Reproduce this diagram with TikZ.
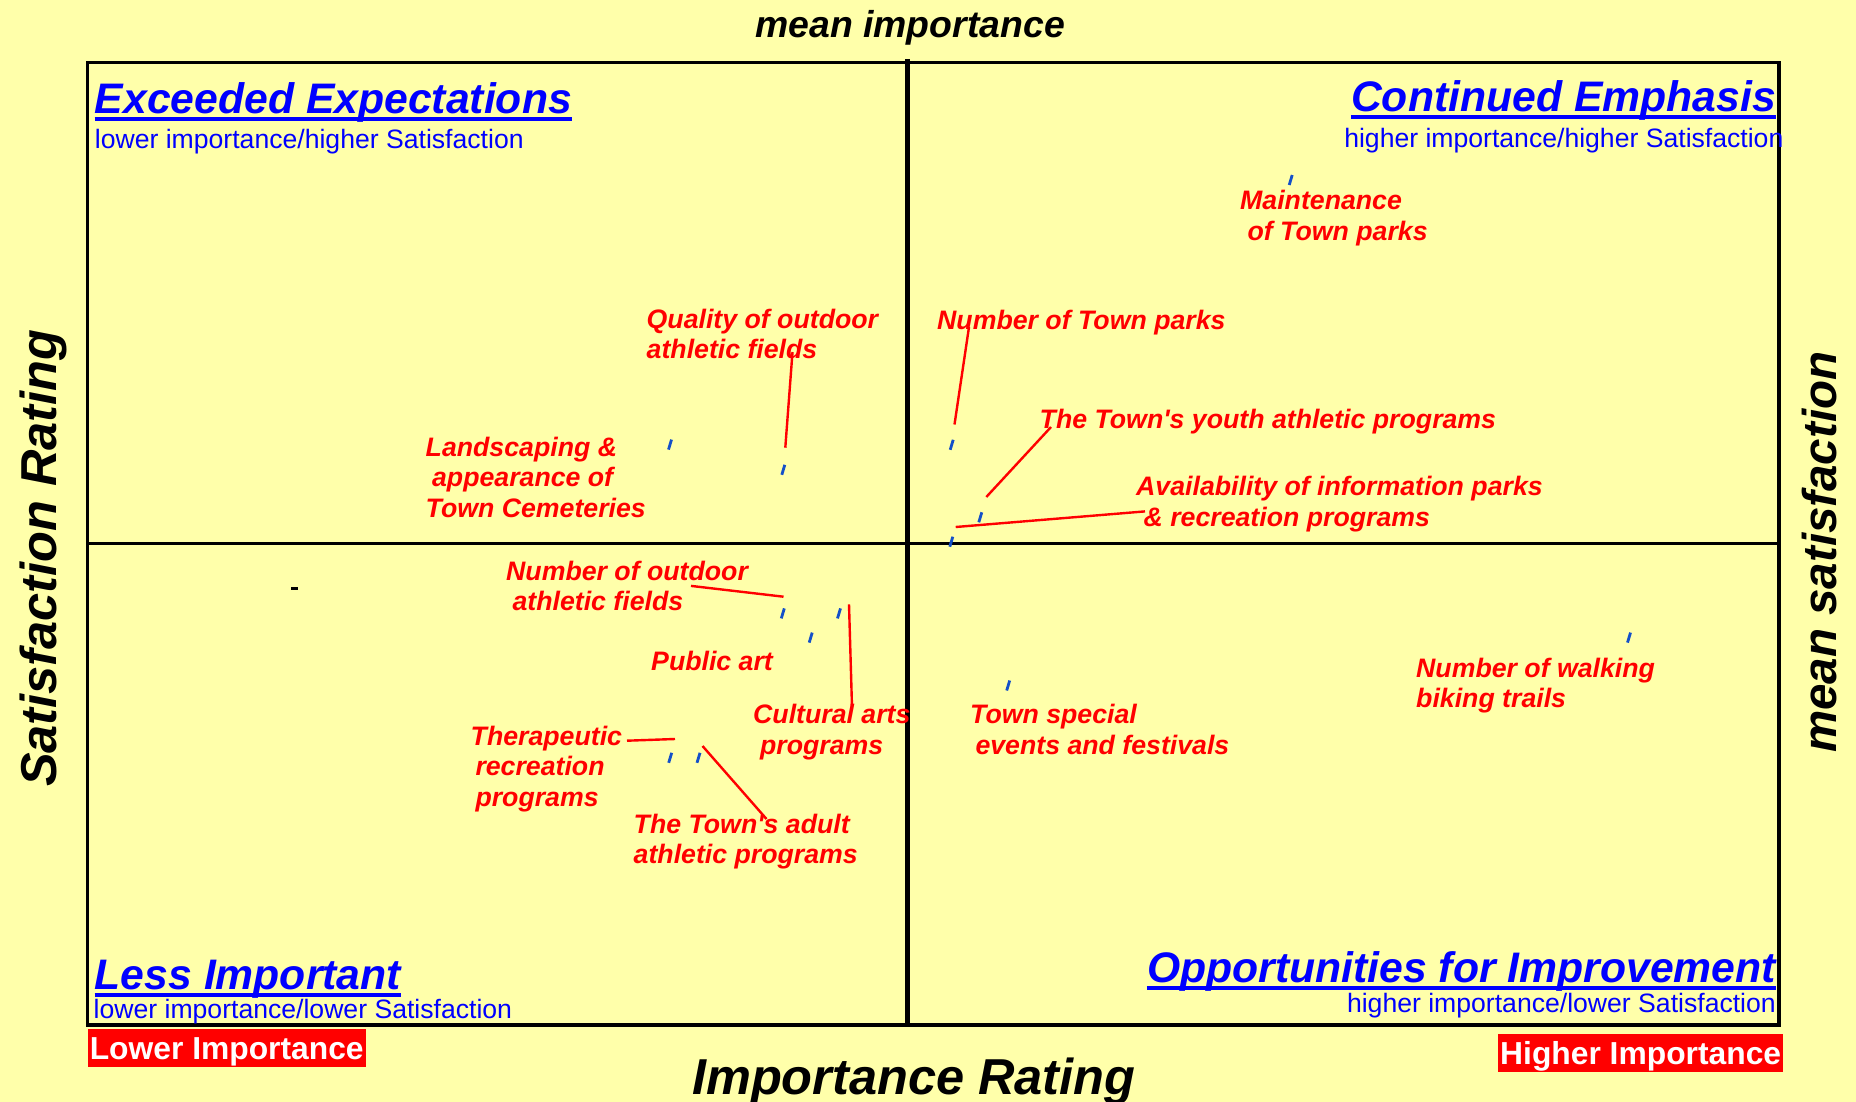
\documentclass[tikz,border=0pt]{standalone}
\usepackage{fontspec}
\setmainfont{Liberation Sans}
\definecolor{bg}{HTML}{FFFFAA}
\definecolor{tickblue}{RGB}{20,80,200}
\newcommand\lbltxt[1]{\begin{tabular}[t]{@{}l@{}}#1\end{tabular}}
\begin{document}
\begin{tikzpicture}[x=1pt,y=-1pt,
  every node/.style={inner sep=0pt},
  lab/.style={anchor=base west, text=red, font=\fontsize{26.7}{30.5}\selectfont\bfseries\itshape},
  head/.style={text=blue, font=\fontsize{42.7}{50}\selectfont\bfseries\itshape},
  sub/.style={text=blue, font=\fontsize{26.6}{30}\selectfont},
  axistitle/.style={text=black, font=\fontsize{50.5}{60}\selectfont\bfseries\itshape, anchor=base west},
  leader/.style={draw=red, line width=2.4pt},
  tickmark/.style={draw=tickblue, line width=2.8pt},
  uline/.style={draw=blue, line width=4pt},
  tag/.style={fill=red, text=white, font=\fontsize{31.8}{36}\selectfont\bfseries, anchor=base west, inner xsep=2pt, inner ysep=0pt, text height=30pt, text depth=8pt}
]
\useasboundingbox (0,0) rectangle (1856,1102);
\fill[bg] (0,0) rectangle (1856,1102);

% frame and quadrant lines
\draw[line width=3.2pt] (87.6,62.5) rectangle (1779,1025);
\draw[line width=3.2pt] (87.6,543.6) -- (1779,543.6);
\draw[line width=4.8pt] (907.5,59) -- (907.5,1025);

% axis titles
\node[axistitle, font=\fontsize{37.4}{44}\selectfont\bfseries\itshape] (mimp) at (755,37.5) {mean importance};
\node[axistitle] (irat) at (692,1094) {Importance Rating};
\node[axistitle, rotate=90] (srat) at (56,787) {Satisfaction Rating};
\node[axistitle, rotate=90, font=\fontsize{47.5}{56}\selectfont\bfseries\itshape] (msat) at (1836,753) {mean satisfaction};

% quadrant headings
\node[head, anchor=base west] (hee) at (94.7,113.5) {Exceeded Expectations};
\draw[uline] ([yshift=-6pt]hee.base west) -- ([yshift=-6pt]hee.base east);
\node[sub, anchor=base west] (see) at (94.7,149) {lower importance/higher Satisfaction};

\node[head, anchor=base east] (hce) at (1776,111.5) {Continued Emphasis};
\draw[uline] ([yshift=-6pt]hce.base west) -- ([yshift=-6pt]hce.base east);
\node[sub, anchor=base east] (sce) at (1783.6,147.4) {higher importance/higher Satisfaction};

\node[head, anchor=base west] (hli) at (94.7,989) {Less Important};
\draw[uline] ([yshift=-6pt]hli.base west) -- ([yshift=-6pt]hli.base east);
\node[sub, anchor=base west] (sli) at (93.5,1018.5) {lower importance/lower Satisfaction};

\node[head, anchor=base east] (hoi) at (1776,982) {Opportunities for Improvement};
\draw[uline] ([yshift=-6pt]hoi.base west) -- ([yshift=-6pt]hoi.base east);
\node[sub, anchor=base east] (soi) at (1776,1012) {higher importance/lower Satisfaction};

% red tags
\node[tag] (lowi) at (87.6,1059) {Lower Importance};
\node[tag] (highi) at (1498,1064) {Higher Importance};

% data labels
\node[lab] (lm) at (1240,210) {\lbltxt{Maintenance\\\hspace*{.278em}of Town parks}};
\node[lab] (lq) at (646.5,328) {\lbltxt{Quality of outdoor\\athletic fields}};
\node[lab] (lntp) at (937,329.6) {\lbltxt{Number of Town parks}};
\node[lab] (ly) at (1039.5,428.5) {\lbltxt{The Town\textquotesingle s youth athletic programs}};
\node[lab] (ll) at (425.5,456) {\lbltxt{Landscaping \&\\\hspace*{.24em}appearance of\\Town Cemeteries}};
\node[lab] (la) at (1136,495.6) {\lbltxt{Availability of information parks\\\hspace*{.278em}\& recreation programs}};
\node[lab] (lno) at (506,580.4) {\lbltxt{Number of outdoor\\\hspace*{.24em}athletic fields}};
\node[lab] (lpa) at (651,670.7) {\lbltxt{Public art}};
\node[lab] (lca) at (753,723.8) {\lbltxt{Cultural arts\\\hspace*{.26em}programs}};
\node[lab] (lt) at (470.5,745) {\lbltxt{Therapeutic\\\hspace*{.18em}recreation\\\hspace*{.18em}programs}};
\node[lab] (lad) at (633.5,833) {\lbltxt{The Town\textquotesingle s adult\\athletic programs}};
\node[lab] (lts) at (970,723.8) {\lbltxt{Town special\\\hspace*{.2em}events and festivals}};
\node[lab] (lw) at (1416,677) {\lbltxt{Number of walking\\biking trails}};

% leader end points
\coordinate (q1) at (792.5,352);   \coordinate (q2) at (785.3,447.7);
\coordinate (n1) at (969,327);     \coordinate (n2) at (954.5,424.5);
\coordinate (y1) at (1051,427);    \coordinate (y2) at (986.3,497);
\coordinate (a1) at (1145,511.4);  \coordinate (a2) at (955.7,527);
\coordinate (o1) at (691,585.9);   \coordinate (o2) at (783.5,596.7);
\coordinate (c1) at (849,604.3);   \coordinate (c2) at (852,707);
\coordinate (t1) at (627,740.7);   \coordinate (t2) at (675,739);
\coordinate (d1) at (702.5,746);   \coordinate (d2) at (766.5,819);
\draw[leader] (q1) -- (q2);
\draw[leader] (n1) -- (n2);
\draw[leader] (y1) -- (y2);
\draw[leader] (a1) -- (a2);
\draw[leader] (o1) -- (o2);
\draw[leader] (c1) -- (c2);
\draw[leader] (t1) -- (t2);
\draw[leader] (d1) -- (d2);

% data point ticks
\foreach \nm/\px/\py in {k1/670/444.6, k2/783.3/469.8, k3/951.7/444.8, k4/980.3/517.3,
  k5/951.3/541.7, k6/1290.7/180, k7/782.8/613.4, k8/839/613.4, k9/810.7/637.6,
  k10/670.2/757.8, k11/698.5/757.8, k12/1008.2/685.5, k13/1629/637.6}{
  \coordinate (\nm) at (\px,\py);
  \draw[tickmark] ([xshift=-1.5pt,yshift=-5pt]\nm) -- ([xshift=1.5pt,yshift=5pt]\nm);
}

% small black dash
\fill[black] (290.8,586.8) rectangle (297.8,589.8);
\end{tikzpicture}
\end{document}
